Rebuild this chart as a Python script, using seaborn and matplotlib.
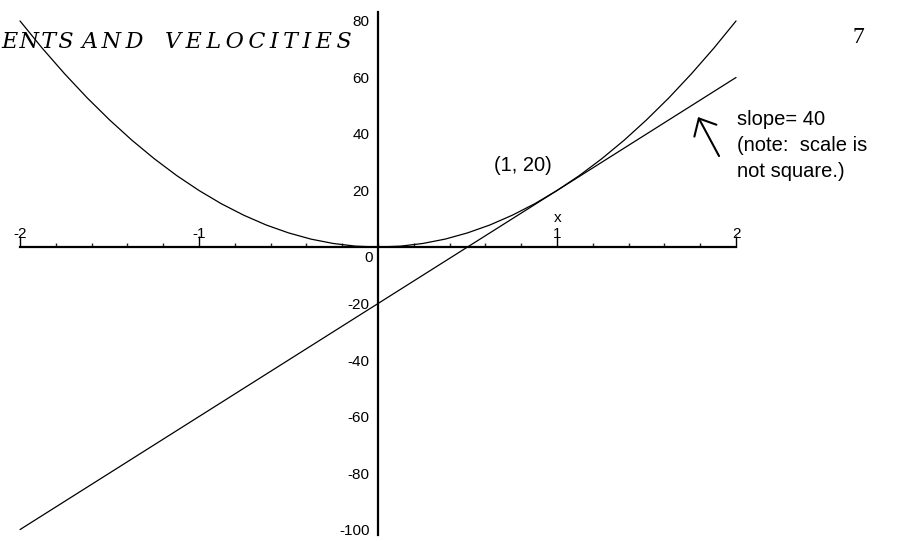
import numpy as np
import matplotlib
matplotlib.use("Agg")
import matplotlib.pyplot as plt
from matplotlib.ticker import MultipleLocator, FixedLocator
import seaborn as sns

# =========================
# DATA
# =========================
x_curve = [-2.0, -1.875, -1.75, -1.625, -1.5, -1.375, -1.25, -1.125, -1.0,
           -0.875, -0.75, -0.625, -0.5, -0.375, -0.25, -0.125, 0.0,
           0.125, 0.25, 0.375, 0.5, 0.625, 0.75, 0.875, 1.0,
           1.125, 1.25, 1.375, 1.5, 1.625, 1.75, 1.875, 2.0]
y_curve = [80, 70.3, 61.25, 52.8, 45, 37.8, 31.25, 25.3, 20,
           15.3, 11.25, 7.8, 5, 2.8, 1.25, 0.3, 0,
           0.3, 1.25, 2.8, 5, 7.8, 11.25, 15.3, 20,
           25.3, 31.25, 37.8, 45, 52.8, 61.25, 70.3, 80]

x_tangent = [-2.0, 2.0]
y_tangent = [-100, 60]

x_ticks = [-2, -1, 1, 2]
x_tick_labels = ["-2", "-1", "1", "2"]
y_ticks = [-100, -80, -60, -40, -20, 20, 40, 60, 80]
y_tick_labels = ["-100", "-80", "-60", "-40", "-20", "20", "40", "60", "80"]

point_label = "(1, 20)"
note_lines = "slope= 40\n(note:  scale is\nnot square.)"
header_words = ["ENTS", "AND", "VELOCITIES"]   # visible part of the running head
page_number = "7"

# =========================
# STYLE
# =========================
sns.set_style("white")
plt.rcParams["font.family"] = ["Liberation Sans", "DejaVu Sans"]
plt.rcParams["text.color"] = "black"

fig = plt.figure(figsize=(9.06, 5.41), dpi=100)
ax = fig.add_axes([0.0221, 0.0107, 0.7903, 0.9662])
ax.set_xlim(-2, 2)
ax.set_ylim(-102, 83)

sns.lineplot(x=x_curve, y=y_curve, color="black", lw=0.9, ax=ax, clip_on=False)
sns.lineplot(x=x_tangent, y=y_tangent, color="black", lw=0.9, ax=ax, clip_on=False)

# =========================
# AXES THROUGH ORIGIN
# =========================
for side in ["right", "bottom"]:
    ax.spines[side].set_visible(False)
ax.spines["top"].set_position(("data", 0))
ax.spines["left"].set_position(("data", 0))
for side in ["top", "left"]:
    ax.spines[side].set_color("black")
    ax.spines[side].set_linewidth(1.6)

ax.xaxis.tick_top()
ax.xaxis.set_major_locator(FixedLocator(x_ticks))
ax.set_xticklabels(x_tick_labels)
ax.xaxis.set_minor_locator(MultipleLocator(0.2))
ax.tick_params(axis="x", which="major", direction="out", length=8, width=1,
               pad=-4, labelsize=11, colors="black")
ax.tick_params(axis="x", which="minor", direction="out", length=3, width=1)

ax.yaxis.set_major_locator(FixedLocator(y_ticks))
ax.set_yticklabels(y_tick_labels)
ax.yaxis.set_minor_locator(MultipleLocator(5))
ax.tick_params(axis="y", which="major", direction="out", length=5, width=1,
               pad=1, labelsize=11, colors="black")
ax.tick_params(axis="y", which="minor", direction="out", length=3, width=1)

ax.text(-0.03, -4, "0", ha="right", va="center", fontsize=11)
ax.text(1.006, 10.3, "x", ha="center", va="center", fontsize=11)

# =========================
# ANNOTATIONS
# =========================
ax.text(0.81, 28.7, point_label, ha="center", va="center", fontsize=14.5)
ax.text(2.006, 24.8, note_lines, ha="left", va="baseline", fontsize=14.5,
        linespacing=1.45)
ax.annotate("", xy=(1.788, 46.0), xytext=(1.905, 32.2),
            arrowprops=dict(arrowstyle="->,head_length=1.0,head_width=0.9",
                            color="black", lw=1.5, shrinkA=0, shrinkB=0),
            annotation_clip=False)

# letter-spaced italic running head, one word at a time
word_left = [0.001, 0.0905, 0.1821]
word_gap = ["\u200a", "\u2009", "\u2009"]
for word, x0, gap in zip(header_words, word_left, word_gap):
    fig.text(x0, 0.911, gap.join(word), ha="left", va="baseline",
             family=["DejaVu Serif"], style="italic", fontsize=16)
fig.text(0.947, 0.93, page_number, ha="center", va="center",
         family=["Liberation Serif", "DejaVu Serif"], fontsize=17)

fig.savefig("out.png", dpi=100, facecolor="white")
